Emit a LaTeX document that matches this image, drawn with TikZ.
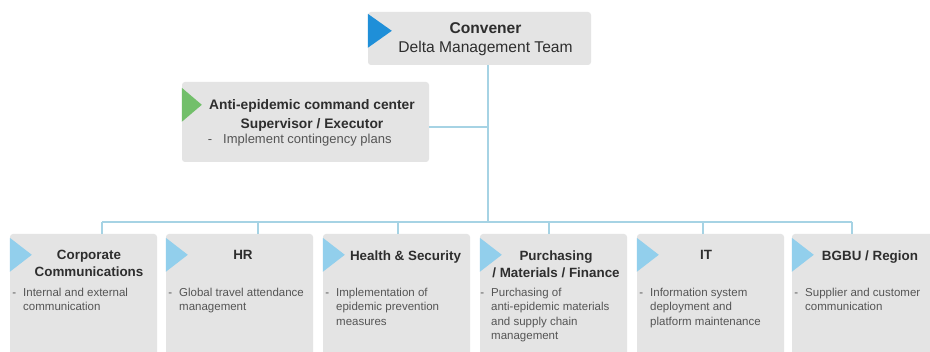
\documentclass[tikz,border=0pt]{standalone}
\usepackage{fontspec}
\setmainfont{Liberation Sans}

\definecolor{boxgray}{HTML}{E4E4E4}
\definecolor{linkblue}{HTML}{A6D3E4}
\definecolor{headblue}{HTML}{1F8FD8}
\definecolor{headgreen}{HTML}{72BF6A}
\definecolor{unitblue}{HTML}{92CFEC}
\definecolor{titlegray}{HTML}{2E2E2E}
\definecolor{bodygray}{HTML}{555555}

\tikzset{
  orgbox/.style={fill=boxgray, rounded corners=3pt, inner sep=0pt},
  unitbox/.style={orgbox, minimum width=147pt, minimum height=126pt},
  link/.style={draw=linkblue, line width=1.2pt},
  unittitle/.style={anchor=north, inner sep=0pt, align=center, text=titlegray,
    font=\fontsize{13.4}{17}\selectfont\bfseries},
  unitbody/.style={anchor=north west, inner sep=0pt, align=left, text=bodygray,
    font=\fontsize{11.5}{14.3}\selectfont},
}

\newcommand{\bul}[1]{\makebox[0pt][r]{-\hspace{#1}}}

\begin{document}
\begin{tikzpicture}[x=1pt, y=-1pt]
\clip (0,0) rectangle (930,352);
\fill[white] (0,0) rectangle (930,352);

% Convener
\node[orgbox, minimum width=223pt, minimum height=53pt] (conv) at (479.5,38.5) {};
\fill[headblue] (conv.north west) ++(0,2) -- ++(24,17) -- ++(-24,17) -- cycle;
\node[anchor=north, inner sep=0pt, align=center, text=titlegray,
  font=\fontsize{15.6}{19}\selectfont] (convtxt) at (485.5,22.3)
{\textbf{Convener}\\Delta Management Team};

% Command center
\node[orgbox, minimum width=247pt, minimum height=80pt] (anti) at (305.5,122) {};
\fill[headgreen] (anti.north west) ++(0,6) -- ++(20,17) -- ++(-20,17) -- cycle;
\node[anchor=north, inner sep=0pt, align=center, text=titlegray,
  font=\fontsize{13.8}{19}\selectfont\bfseries] (antititle) at (312,99.1)
{Anti-epidemic command center\\Supervisor / Executor};
\node[anchor=north west, inner sep=0pt, text=bodygray,
  font=\fontsize{13}{15}\selectfont] (antibody) at (223,133.5)
{\bul{11pt}Implement contingency plans};

% Units
\node[unitbox] (u1) at (83.5,297) {};
\node[unitbox] (u2) at (239.5,297) {};
\node[unitbox] (u3) at (396.5,297) {};
\node[unitbox] (u4) at (553.5,297) {};
\node[unitbox] (u5) at (710.5,297) {};
\node[unitbox] (u6) at (865.5,297) {};

\fill[unitblue] (u1.north west) ++(0,4) -- ++(22,17) -- ++(-22,17) -- cycle;
\fill[unitblue] (u2.north west) ++(0,4) -- ++(22,17) -- ++(-22,17) -- cycle;
\fill[unitblue] (u3.north west) ++(0,4) -- ++(22,17) -- ++(-22,17) -- cycle;
\fill[unitblue] (u4.north west) ++(0,4) -- ++(22,17) -- ++(-22,17) -- cycle;
\fill[unitblue] (u5.north west) ++(0,4) -- ++(22,17) -- ++(-22,17) -- cycle;
\fill[unitblue] (u6.north west) ++(0,4) -- ++(22,17) -- ++(-22,17) -- cycle;

\node[unittitle] (t1) at (89,250.3) {Corporate\\Communications};
\node[unittitle] (t2) at (243,250.3) {HR};
\node[unittitle] (t3) at (405.5,250.3) {Health \& Security};
\node[unittitle] (t4) at (556,250.3) {Purchasing\\/ Materials / Finance};
\node[unittitle] (t5) at (706,250.3) {IT};
\node[unittitle] (t6) at (870,250.3) {BGBU / Region};

\node[unitbody] (b1) at (23,288) {\bul{7pt}Internal and external\\communication};
\node[unitbody] (b2) at (179,288) {\bul{7pt}Global travel attendance\\management};
\node[unitbody] (b3) at (336,288) {\bul{7pt}Implementation of\\epidemic prevention\\measures};
\node[unitbody] (b4) at (491,288) {\bul{7pt}Purchasing of\\anti-epidemic materials\\and supply chain\\management};
\node[unitbody] (b5) at (650,288) {\bul{7pt}Information system\\deployment and\\platform maintenance};
\node[unitbody] (b6) at (805,288) {\bul{7pt}Supplier and customer\\communication};

% Links
\coordinate (hub) at (488,222);
\coordinate (antijoin) at (488,127);
\coordinate (d1) at (102,222);
\coordinate (d2) at (258,222);
\coordinate (d3) at (398,222);
\coordinate (d4) at (549,222);
\coordinate (d5) at (703,222);
\coordinate (d6) at (852,222);

\draw[link] (conv.south -| hub) -- (hub);
\draw[link] (anti.east |- antijoin) -- (antijoin);
\draw[link] (d1) -- (d6);
\draw[link] (d1) -- (d1 |- u1.north);
\draw[link] (d2) -- (d2 |- u2.north);
\draw[link] (d3) -- (d3 |- u3.north);
\draw[link] (d4) -- (d4 |- u4.north);
\draw[link] (d5) -- (d5 |- u5.north);
\draw[link] (d6) -- (d6 |- u6.north);

\end{tikzpicture}
\end{document}
